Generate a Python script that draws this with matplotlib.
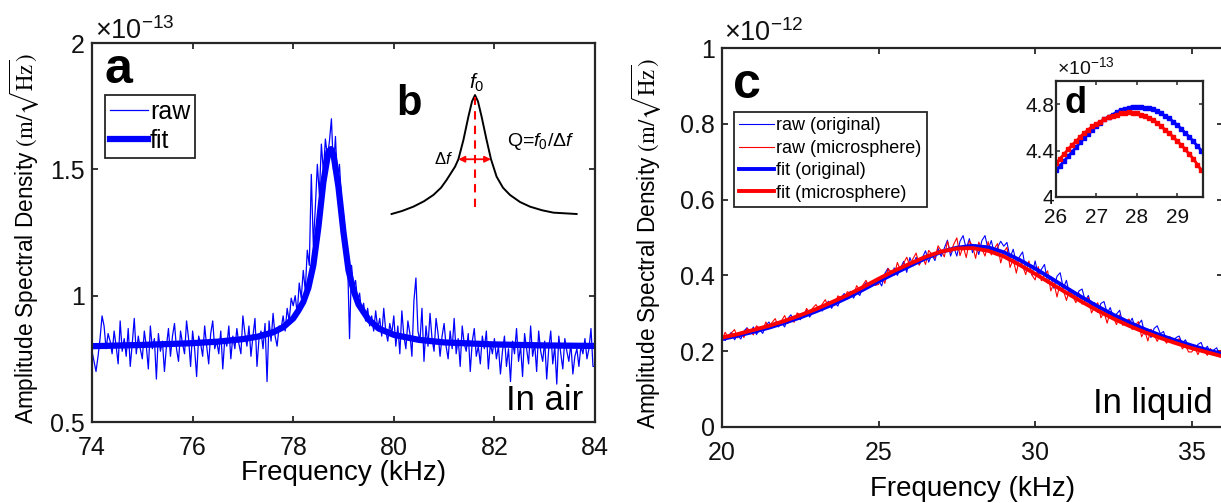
import matplotlib
matplotlib.use('Agg')
import matplotlib.pyplot as plt

W, H = 1221, 503
plt.rcParams['font.family'] = ['Liberation Sans', 'DejaVu Sans']
plt.rcParams['mathtext.fontset'] = 'custom'
plt.rcParams['mathtext.rm'] = 'Liberation Sans'
plt.rcParams['mathtext.it'] = 'Liberation Sans:italic'
plt.rcParams['mathtext.bf'] = 'Liberation Sans:bold'

# ---------------- data ----------------
# panel a (x 1e-13 m/sqrt(Hz)), raw every 0.04 kHz from 74 to 84
a_raw_f0, a_raw_step = 74.0, 0.04
a_raw = [
 0.78,0.74,0.70,0.76,0.83,0.92,0.88,0.79,0.85,0.82,0.77,0.86,0.80,0.73,0.90,0.78,0.83,0.76,0.87,0.72,0.81,0.91,0.77,0.84,0.79,
 0.75,0.86,0.80,0.71,0.88,0.79,0.83,0.67,0.85,0.78,0.82,0.70,0.80,0.87,0.76,0.84,0.89,0.79,0.74,0.86,0.81,0.77,0.90,0.83,0.72,
 0.86,0.79,0.68,0.84,0.81,0.76,0.88,0.80,0.73,0.85,0.90,0.79,0.82,0.77,0.86,0.71,0.83,0.80,0.88,0.75,0.84,0.79,0.87,0.81,0.77,
 0.92,0.85,0.80,0.88,0.76,0.84,0.91,0.72,0.83,0.86,0.79,0.89,0.66,0.90,0.82,0.93,0.84,0.80,0.88,0.87,0.92,0.86,0.95,0.90,0.99,
 0.96,1.00,0.93,1.05,0.99,1.10,1.02,1.18,1.12,1.48,1.20,1.35,1.52,1.40,1.60,1.49,1.62,1.55,1.61,1.70,1.50,1.63,1.45,1.52,1.38,
 1.32,1.22,1.15,0.83,1.12,1.03,1.06,0.98,1.01,0.93,0.97,0.90,0.95,0.88,0.92,0.86,0.94,0.87,0.91,0.84,0.95,0.86,0.82,0.89,0.85,
 0.92,0.80,0.88,0.77,0.94,0.84,0.79,0.90,0.85,0.76,0.98,1.07,0.86,0.82,0.95,0.74,0.88,0.80,0.93,0.83,0.78,0.91,0.85,0.76,0.84,
 0.89,0.80,0.75,0.86,0.79,0.91,0.77,0.83,0.72,0.88,0.81,0.78,0.85,0.70,0.82,0.87,0.76,0.80,0.73,0.84,0.79,0.86,0.71,0.81,0.77,
 0.83,0.75,0.80,0.69,0.78,0.84,0.72,0.79,0.66,0.82,0.77,0.87,0.74,0.80,0.68,0.85,0.79,0.73,0.88,0.76,0.81,0.70,0.86,0.78,0.74,
 0.82,0.67,0.79,0.86,0.73,0.80,0.65,0.84,0.77,0.71,0.83,0.78,0.74,0.81,0.69,0.76,0.79,0.72,0.80,0.77,0.83,0.75,0.79,0.87,0.72,
 0.72]
a_fit_f = [74.0,75.0,76.0,76.5,77.0,77.3,77.6,77.8,78.0,78.1,78.2,78.3,78.4,78.5,78.6,78.7,78.75,78.8,78.9,79.0,79.1,79.2,79.3,79.5,79.7,80.0,80.5,81.0,82.0,83.0,84.0]
a_fit   = [0.800,0.805,0.812,0.818,0.828,0.838,0.855,0.875,0.91,0.94,0.975,1.03,1.12,1.27,1.45,1.57,1.58,1.56,1.43,1.25,1.10,1.02,0.965,0.905,0.87,0.845,0.825,0.815,0.807,0.803,0.801]

# schematic (panel b), unitless
b_u = [0.018,0.07,0.127,0.18,0.227,0.265,0.293,0.335,0.352,0.377,0.402,0.42,0.435,0.45,0.468,0.493,0.515,0.543,0.575,0.61,0.66,0.71,0.77,0.827,0.943]
b_v = [0.040,0.060,0.089,0.125,0.167,0.215,0.267,0.355,0.405,0.533,0.689,0.790,0.833,0.790,0.689,0.533,0.405,0.289,0.215,0.167,0.120,0.089,0.065,0.049,0.040]

# panel c (x 1e-12 m/sqrt(Hz)), raw every 0.1 kHz from 20 to 36
c_raw_f0, c_raw_step = 20.0, 0.1
c_raw_orig = [
 0.242,0.228,0.240,0.250,0.230,0.243,0.232,0.253,0.262,0.246,
 0.264,0.244,0.257,0.247,0.268,0.277,0.262,0.277,0.264,0.276,
 0.264,0.286,0.296,0.280,0.296,0.283,0.296,0.308,0.290,0.304,
 0.302,0.318,0.306,0.319,0.332,0.313,0.328,0.319,0.341,0.352,
 0.345,0.358,0.340,0.356,0.347,0.370,0.381,0.368,0.385,0.374,
 0.387,0.372,0.405,0.419,0.397,0.420,0.400,0.419,0.437,0.408,
 0.447,0.425,0.448,0.428,0.447,0.465,0.435,0.455,0.439,0.471,
 0.450,0.472,0.493,0.451,0.475,0.451,0.490,0.505,0.470,0.497,
 0.460,0.481,0.455,0.492,0.505,0.468,0.492,0.457,0.474,0.490,
 0.477,0.487,0.447,0.469,0.433,0.449,0.462,0.414,0.431,0.401,
 0.438,0.401,0.416,0.429,0.380,0.397,0.366,0.398,0.407,0.366,
 0.387,0.349,0.360,0.336,0.359,0.364,0.333,0.347,0.318,0.328,
 0.302,0.326,0.331,0.301,0.315,0.287,0.298,0.308,0.271,0.283,
 0.272,0.287,0.260,0.271,0.282,0.245,0.258,0.236,0.260,0.267,
 0.246,0.252,0.227,0.235,0.220,0.236,0.240,0.220,0.230,0.212,
 0.217,0.202,0.218,0.223,0.202,0.213,0.195,0.203,0.209,0.185,
 0.195]
c_raw_micro = [
 0.228,0.250,0.236,0.248,0.257,0.235,0.250,0.236,0.260,0.255,
 0.243,0.267,0.261,0.255,0.277,0.263,0.276,0.286,0.265,0.280,
 0.294,0.273,0.289,0.276,0.301,0.296,0.290,0.313,0.301,0.314,
 0.323,0.311,0.324,0.336,0.315,0.332,0.320,0.346,0.341,0.336,
 0.357,0.353,0.348,0.373,0.361,0.375,0.387,0.368,0.385,0.374,
 0.376,0.399,0.379,0.418,0.410,0.400,0.434,0.414,0.432,0.448,
 0.425,0.444,0.459,0.427,0.449,0.429,0.466,0.456,0.445,0.478,
 0.465,0.449,0.490,0.460,0.482,0.499,0.452,0.478,0.447,0.491,
 0.478,0.445,0.488,0.470,0.451,0.489,0.454,0.471,0.484,0.433,
 0.462,0.474,0.421,0.443,0.406,0.446,0.425,0.402,0.438,0.401,
 0.388,0.423,0.386,0.401,0.412,0.359,0.380,0.343,0.382,0.361,
 0.334,0.363,0.346,0.328,0.353,0.324,0.334,0.342,0.301,0.316,
 0.328,0.288,0.303,0.274,0.304,0.288,0.270,0.296,0.268,0.279,
 0.285,0.257,0.269,0.278,0.238,0.254,0.227,0.258,0.243,0.226,
 0.244,0.233,0.221,0.239,0.220,0.227,0.233,0.206,0.216,0.198,
 0.198,0.209,0.191,0.210,0.200,0.189,0.207,0.189,0.196,0.202,
 0.181]
c_fit_f = [20.0,20.5,21.0,21.5,22.0,22.5,23.0,23.5,24.0,24.5,25.0,25.5,26.0,26.5,27.0,27.5,28.0,28.5,29.0,29.5,30.0,30.5,31.0,31.5,32.0,32.5,33.0,33.5,34.0,34.5,35.0,35.5,36.0]
c_fit_orig  = [0.232,0.241,0.251,0.262,0.275,0.289,0.305,0.322,0.341,0.362,0.384,0.405,0.425,0.445,0.462,0.473,0.478,0.474,0.461,0.441,0.418,0.393,0.367,0.342,0.318,0.296,0.276,0.258,0.242,0.228,0.215,0.203,0.192]
c_fit_micro = [0.236,0.245,0.256,0.267,0.280,0.295,0.311,0.329,0.348,0.369,0.391,0.412,0.431,0.449,0.463,0.471,0.472,0.465,0.450,0.428,0.404,0.379,0.354,0.330,0.307,0.286,0.267,0.250,0.235,0.221,0.208,0.197,0.186]

# inset d (x 1e-13), every 0.1 kHz from 26.0 to 29.6
d_f = [26.0,26.1,26.2,26.3,26.4,26.5,26.6,26.7,26.8,26.9,27.0,27.1,27.2,27.3,27.4,27.5,27.6,27.7,27.8,27.9,28.0,28.1,28.2,28.3,28.4,28.5,28.6,28.7,28.8,28.9,29.0,29.1,29.2,29.3,29.4,29.5,29.6]
d_orig  = [4.23,4.27,4.31,4.35,4.39,4.43,4.47,4.51,4.54,4.58,4.61,4.64,4.67,4.69,4.71,4.73,4.75,4.76,4.77,4.78,4.78,4.78,4.77,4.77,4.76,4.74,4.72,4.70,4.68,4.65,4.62,4.59,4.55,4.52,4.48,4.44,4.40]
d_micro = [4.29,4.33,4.37,4.41,4.45,4.48,4.52,4.55,4.58,4.61,4.63,4.65,4.67,4.69,4.70,4.71,4.72,4.72,4.73,4.72,4.72,4.71,4.70,4.68,4.66,4.64,4.61,4.58,4.55,4.52,4.48,4.45,4.41,4.37,4.33,4.28,4.23]

a_xticks = [74, 76, 78, 80, 82, 84]
a_yticks = [0.5, 1, 1.5, 2]
a_yticklabels = ['0.5', '1', '1.5', '2']
c_xticks = [20, 25, 30, 35]
c_yticks = [0, 0.2, 0.4, 0.6, 0.8, 1]
c_yticklabels = ['0', '0.2', '0.4', '0.6', '0.8', '1']
d_xticks = [26, 27, 28, 29]
d_yticks = [4, 4.4, 4.8]
d_yticklabels = ['4', '4.4', '4.8']

a_x = [a_raw_f0 + a_raw_step * i for i in range(len(a_raw))]
c_x = [c_raw_f0 + c_raw_step * i for i in range(len(c_raw_orig))]

# ---------------- figure ----------------
fig = plt.figure(figsize=(W / 100, H / 100), dpi=100)
DARK = '#262626'
BLUE = '#0000ff'
RED = '#ff0000'
YLABEL = r'Amplitude Spectral Density $(\mathrm{m}/\sqrt{\mathrm{Hz}})$'


def rect(l, t, r, b):
    return [l / W, 1 - b / H, (r - l) / W, (b - t) / H]


def px(x, y):
    return x / W, 1 - y / H


def style(ax, size, length=4, width=1.3, pad=5):
    for s in ax.spines.values():
        s.set_linewidth(1.6)
        s.set_color(DARK)
    ax.tick_params(direction='in', top=True, right=True, length=length,
                   width=width, color=DARK, labelsize=size, labelcolor='#111111', pad=pad)


# panel a
axa = fig.add_axes(rect(92, 43, 595, 422))
l_raw, = axa.plot(a_x, a_raw, color=BLUE, lw=0.9, label='raw')
l_fit, = axa.plot(a_fit_f, a_fit, color=BLUE, lw=4.5, label='fit', solid_joinstyle='round')
axa.set_xlim(74, 84)
axa.set_ylim(0.5, 2)
axa.set_xticks(a_xticks)
axa.set_yticks(a_yticks)
axa.set_yticklabels(a_yticklabels)
style(axa, 18)
axa.tick_params(axis='x', pad=10)
axa.set_xlabel('Frequency (kHz)', fontsize=20)
axa.set_ylabel(YLABEL, fontsize=16.3, math_fontfamily='stix')
axa.xaxis.set_label_coords(0.5, -0.10)
axa.yaxis.set_label_coords(-0.10, 0.485)
leg = axa.legend(handles=[l_raw, l_fit], loc='upper left', bbox_to_anchor=px(105, 95),
                 bbox_transform=fig.transFigure, fontsize=18, frameon=True, fancybox=False,
                 edgecolor=DARK, framealpha=1, borderpad=0.2, labelspacing=0.2,
                 handlelength=1.5, handletextpad=0.1, borderaxespad=0)
leg.get_frame().set_linewidth(1.3)
fig.text(*px(95, 39), r'$\times 10^{-13}$', fontsize=19.5, ha='left', va='baseline', color='#111111')
fig.text(*px(105, 83), 'a', fontsize=36, fontweight='bold', ha='left', va='baseline')
fig.text(*px(583, 410), 'In air', fontsize=25, ha='right', va='baseline')

# inset b (schematic)
axb = fig.add_axes(rect(388, 70, 588, 220))
axb.axis('off')
axb.set_xlim(0, 1)
axb.set_ylim(0, 1)
axb.plot(b_u, b_v, color='black', lw=1.4)
axb.plot([0.435, 0.435], [0.089, 0.82], color=RED, lw=1.5, ls=(0, (4, 3)))
axb.annotate('', xy=(0.352, 0.405), xytext=(0.515, 0.405),
             arrowprops=dict(arrowstyle='<|-|>', color=RED, lw=1.3, mutation_scale=9, shrinkA=0, shrinkB=0))
fig.text(*px(477, 83), r'$f_0$', fontsize=15, ha='center', va='center')
fig.text(*px(444, 159), r'$\Delta f$', fontsize=12, ha='center', va='center')
fig.text(*px(541, 142), r'Q=$f_0$/$\Delta f$', fontsize=14, ha='center', va='center')
fig.text(*px(396, 115), 'b', fontsize=30, fontweight='bold', ha='left', va='baseline')

# panel c
axc = fig.add_axes(rect(722, 48, 1223, 427))
r1, = axc.plot(c_x, c_raw_orig, color=BLUE, lw=0.8, label='raw (original)')
r2, = axc.plot(c_x, c_raw_micro, color=RED, lw=0.8, label='raw (microsphere)')
f1, = axc.plot(c_fit_f, c_fit_orig, color=BLUE, lw=2.8, label='fit (original)')
f2, = axc.plot(c_fit_f, c_fit_micro, color=RED, lw=2.8, label='fit (microsphere)')
axc.set_xlim(20, 36)
axc.set_ylim(0, 1)
axc.set_xticks(c_xticks)
axc.set_yticks(c_yticks)
axc.set_yticklabels(c_yticklabels)
style(axc, 18)
axc.tick_params(axis='x', pad=10)
axc.set_xlabel('Frequency (kHz)', fontsize=20)
axc.set_ylabel(YLABEL, fontsize=16.3, math_fontfamily='stix')
axc.xaxis.set_label_coords(0.5, -0.13)
axc.yaxis.set_label_coords(-0.116, 0.485)
leg2 = axc.legend(handles=[r1, r2, f1, f2], loc='upper left', bbox_to_anchor=px(734, 112),
                  bbox_transform=fig.transFigure, fontsize=13, frameon=True, fancybox=False,
                  edgecolor=DARK, framealpha=1, borderpad=0.3, labelspacing=0.3,
                  handlelength=1.9, handletextpad=0.15, borderaxespad=0)
leg2.get_frame().set_linewidth(1.3)
fig.text(*px(724, 41), r'$\times 10^{-12}$', fontsize=19.5, ha='left', va='baseline', color='#111111')
fig.text(*px(733, 98), 'c', fontsize=36, fontweight='bold', ha='left', va='baseline')
fig.text(*px(1213, 413), 'In liquid', fontsize=25, ha='right', va='baseline')

# inset d
axd = fig.add_axes(rect(1056, 81, 1203, 197))
axd.plot(d_f, d_orig, color=BLUE, lw=2, marker='s', ms=3.5)
axd.plot(d_f, d_micro, color=RED, lw=2, marker='s', ms=3.5)
axd.set_xlim(26, 29.64)
axd.set_ylim(4, 5)
axd.set_xticks(d_xticks)
axd.set_yticks(d_yticks)
axd.set_yticklabels(d_yticklabels)
style(axd, 15, length=3, width=1.1, pad=2)
axd.tick_params(axis='x', pad=8)
axd.tick_params(axis='y', pad=1)
fig.text(*px(1057, 74), r'$\times 10^{-13}$', fontsize=14, ha='left', va='baseline', color='#111111')
fig.text(*px(1064, 113), 'd', fontsize=26, fontweight='bold', ha='left', va='baseline')

fig.savefig('out.png', dpi=100)
